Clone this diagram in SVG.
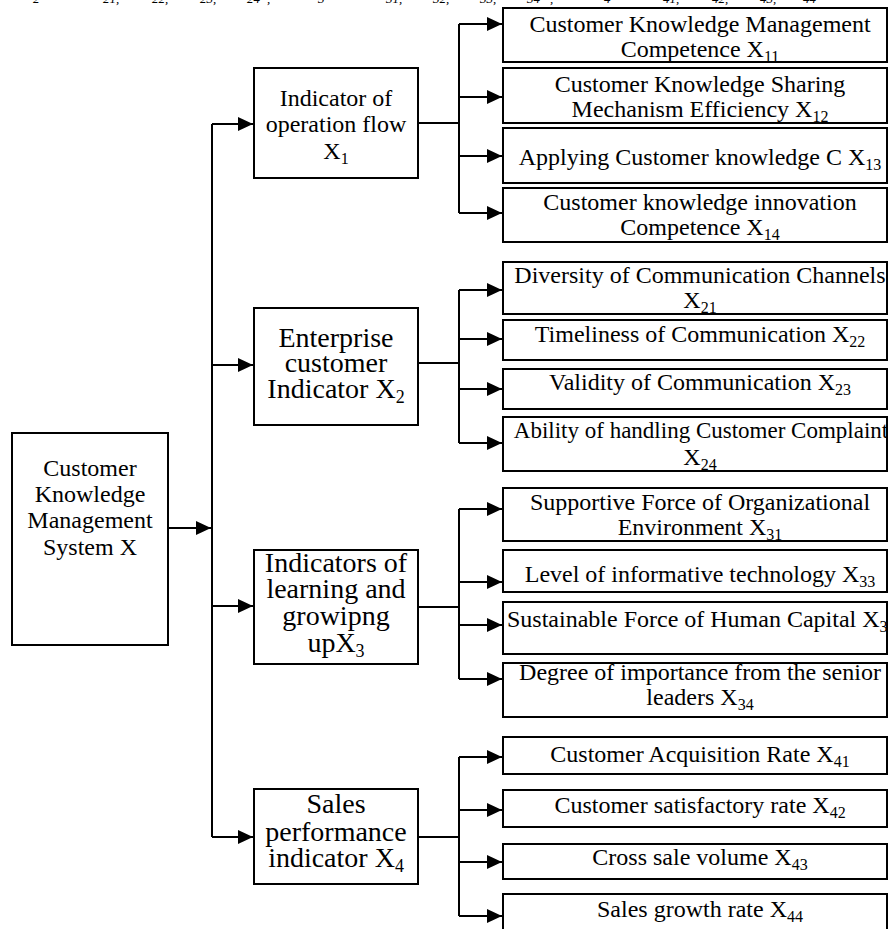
<svg xmlns="http://www.w3.org/2000/svg" width="888" height="929" viewBox="0 0 888 929">
  <style>
    .box { fill: #fff; stroke: #000; stroke-width: 2; }
    .wire { fill: none; stroke: #000; stroke-width: 2; }
    .t { font-family: "Liberation Serif", "Times New Roman", serif; font-size: 24px; fill: #000; text-anchor: middle; }
    .ts { font-family: "Liberation Serif", "Times New Roman", serif; font-size: 24px; fill: #000; text-anchor: start; }
    .tl { font-size: 28px; }
    .sub { font-size: 16px; }
    .subl { font-size: 18px; }
    .top { font-family: "Liberation Serif", "Times New Roman", serif; font-size: 13px; font-style: italic; fill: #000; }
  </style>
  <defs>
    <marker id="arrow" markerUnits="userSpaceOnUse" markerWidth="15" markerHeight="14" refX="15" refY="7" orient="auto">
      <path d="M0,0 L15,7 L0,14 z" fill="#000"/>
    </marker>
  </defs>

  <!-- subscripts of the preceding formula line, clipped at the top edge -->
  <g id="formula-tail">
    <text class="top" x="33" y="3">2</text>
    <text class="top" x="103" y="3">21,</text>
    <text class="top" x="152" y="3">22,</text>
    <text class="top" x="200" y="3">23,</text>
    <text class="top" x="247" y="3">24</text>
    <text class="top" x="267" y="3">,</text>
    <text class="top" x="318" y="3">3</text>
    <text class="top" x="386" y="3">31,</text>
    <text class="top" x="433" y="3">32,</text>
    <text class="top" x="480" y="3">33,</text>
    <text class="top" x="527" y="3">34</text>
    <text class="top" x="550" y="3">,</text>
    <text class="top" x="604" y="3">4</text>
    <text class="top" x="663" y="3">41,</text>
    <text class="top" x="712" y="3">42,</text>
    <text class="top" x="760" y="3">43,</text>
    <text class="top" x="803" y="3">44</text>
  </g>

  <!-- connectors -->
  <g id="connectors">
    <!-- root to trunk -->
    <line class="wire" x1="168" y1="528" x2="211" y2="528" marker-end="url(#arrow)"/>
    <!-- main trunk -->
    <line class="wire" x1="212" y1="124" x2="212" y2="837"/>
    <line class="wire" x1="212" y1="124" x2="253" y2="124" marker-end="url(#arrow)"/>
    <line class="wire" x1="212" y1="365" x2="253" y2="365" marker-end="url(#arrow)"/>
    <line class="wire" x1="212" y1="606" x2="253" y2="606" marker-end="url(#arrow)"/>
    <line class="wire" x1="212" y1="837" x2="253" y2="837" marker-end="url(#arrow)"/>

    <!-- group 1 -->
    <line class="wire" x1="418" y1="123" x2="459" y2="123"/>
    <line class="wire" x1="459" y1="24" x2="459" y2="213"/>
    <line class="wire" x1="459" y1="24" x2="502" y2="24" marker-end="url(#arrow)"/>
    <line class="wire" x1="459" y1="97" x2="502" y2="97" marker-end="url(#arrow)"/>
    <line class="wire" x1="459" y1="156" x2="502" y2="156" marker-end="url(#arrow)"/>
    <line class="wire" x1="459" y1="213" x2="502" y2="213" marker-end="url(#arrow)"/>

    <!-- group 2 -->
    <line class="wire" x1="418" y1="363" x2="459" y2="363"/>
    <line class="wire" x1="459" y1="290" x2="459" y2="443"/>
    <line class="wire" x1="459" y1="290" x2="502" y2="290" marker-end="url(#arrow)"/>
    <line class="wire" x1="459" y1="339" x2="502" y2="339" marker-end="url(#arrow)"/>
    <line class="wire" x1="459" y1="389" x2="502" y2="389" marker-end="url(#arrow)"/>
    <line class="wire" x1="459" y1="443" x2="502" y2="443" marker-end="url(#arrow)"/>

    <!-- group 3 -->
    <line class="wire" x1="418" y1="607" x2="459" y2="607"/>
    <line class="wire" x1="459" y1="509" x2="459" y2="679"/>
    <line class="wire" x1="459" y1="509" x2="502" y2="509" marker-end="url(#arrow)"/>
    <line class="wire" x1="459" y1="582" x2="502" y2="582" marker-end="url(#arrow)"/>
    <line class="wire" x1="459" y1="625" x2="502" y2="625" marker-end="url(#arrow)"/>
    <line class="wire" x1="459" y1="679" x2="502" y2="679" marker-end="url(#arrow)"/>

    <!-- group 4 -->
    <line class="wire" x1="418" y1="837" x2="459" y2="837"/>
    <line class="wire" x1="459" y1="757" x2="459" y2="916"/>
    <line class="wire" x1="459" y1="757" x2="502" y2="757" marker-end="url(#arrow)"/>
    <line class="wire" x1="459" y1="810" x2="502" y2="810" marker-end="url(#arrow)"/>
    <line class="wire" x1="459" y1="862" x2="502" y2="862" marker-end="url(#arrow)"/>
    <line class="wire" x1="459" y1="916" x2="502" y2="916" marker-end="url(#arrow)"/>
  </g>

  <!-- root -->
  <g id="root">
    <rect class="box" x="12" y="433" width="156" height="212"/>
    <text class="t" x="90" y="476">Customer</text>
    <text class="t" x="90" y="502">Knowledge</text>
    <text class="t" x="90" y="528">Management</text>
    <text class="t" x="90" y="555">System X</text>
  </g>

  <!-- first level -->
  <g id="x1">
    <rect class="box" x="254" y="68" width="164" height="110"/>
    <text class="t" x="336" y="106">Indicator of</text>
    <text class="t" x="336" y="132">operation flow</text>
    <text class="t" x="336" y="159">X<tspan class="sub" dy="5">1</tspan></text>
  </g>
  <g id="x2">
    <rect class="box" x="254" y="308" width="164" height="117"/>
    <text class="t tl" x="336" y="347">Enterprise</text>
    <text class="t tl" x="336" y="372">customer</text>
    <text class="t tl" x="336" y="398">Indicator X<tspan class="subl" dy="5">2</tspan></text>
  </g>
  <g id="x3">
    <rect class="box" x="254" y="550" width="164" height="114"/>
    <text class="t tl" x="336" y="572">Indicators of</text>
    <text class="t tl" x="336" y="598">learning and</text>
    <text class="t tl" x="336" y="625">growipng</text>
    <text class="t tl" x="336" y="652">upX<tspan class="subl" dy="5">3</tspan></text>
  </g>
  <g id="x4">
    <rect class="box" x="254" y="789" width="164" height="95"/>
    <text class="t tl" x="336" y="813">Sales</text>
    <text class="t tl" x="336" y="841">performance</text>
    <text class="t tl" x="336" y="867">indicator X<tspan class="subl" dy="5">4</tspan></text>
  </g>

  <!-- second level: operation flow -->
  <g id="x11">
    <rect class="box" x="503" y="8" width="384" height="54"/>
    <text class="t" x="700" y="32">Customer Knowledge Management</text>
    <text class="t" x="700" y="57">Competence X<tspan class="sub" dy="5">11</tspan></text>
  </g>
  <g id="x12">
    <rect class="box" x="503" y="68" width="384" height="55"/>
    <text class="t" x="700" y="92">Customer Knowledge Sharing</text>
    <text class="t" x="700" y="117">Mechanism Efficiency X<tspan class="sub" dy="5">12</tspan></text>
  </g>
  <g id="x13">
    <rect class="box" x="503" y="128" width="384" height="55"/>
    <text class="t" x="700" y="165">Applying Customer knowledge C X<tspan class="sub" dy="5">13</tspan></text>
  </g>
  <g id="x14">
    <rect class="box" x="503" y="188" width="384" height="54"/>
    <text class="t" x="700" y="210">Customer knowledge innovation</text>
    <text class="t" x="700" y="235">Competence X<tspan class="sub" dy="5">14</tspan></text>
  </g>

  <!-- second level: enterprise customer -->
  <g id="x21">
    <rect class="box" x="503" y="262" width="384" height="52"/>
    <text class="t" x="700" y="283">Diversity of Communication Channels</text>
    <text class="t" x="700" y="308">X<tspan class="sub" dy="5">21</tspan></text>
  </g>
  <g id="x22">
    <rect class="box" x="503" y="320" width="384" height="40"/>
    <text class="t" x="700" y="342">Timeliness of Communication X<tspan class="sub" dy="5">22</tspan></text>
  </g>
  <g id="x23">
    <rect class="box" x="503" y="369" width="384" height="40"/>
    <text class="t" x="700" y="390">Validity of Communication X<tspan class="sub" dy="5">23</tspan></text>
  </g>
  <g id="x24">
    <rect class="box" x="503" y="417" width="384" height="54"/>
    <text class="t" x="701" y="438" style="font-size:23px">Ability of handling Customer Complaint</text>
    <text class="t" x="700" y="465">X<tspan class="sub" dy="5">24</tspan></text>
  </g>

  <!-- second level: learning and growing -->
  <g id="x31">
    <rect class="box" x="503" y="488" width="384" height="53"/>
    <text class="t" x="700" y="510">Supportive Force of Organizational</text>
    <text class="t" x="700" y="535">Environment X<tspan class="sub" dy="5">31</tspan></text>
  </g>
  <g id="x33">
    <rect class="box" x="503" y="550" width="384" height="42"/>
    <text class="t" x="700" y="582">Level of informative technology X<tspan class="sub" dy="5">33</tspan></text>
  </g>
  <g id="x32">
    <rect class="box" x="503" y="602" width="384" height="52"/>
    <text class="ts" x="507" y="627">Sustainable Force of Human Capital X<tspan class="sub" dy="5">32</tspan></text>
  </g>
  <g id="x34">
    <rect class="box" x="503" y="663" width="384" height="54"/>
    <text class="t" x="700" y="680">Degree of importance from the senior</text>
    <text class="t" x="700" y="705">leaders X<tspan class="sub" dy="5">34</tspan></text>
  </g>

  <!-- second level: sales performance -->
  <g id="x41">
    <rect class="box" x="503" y="737" width="384" height="37"/>
    <text class="t" x="700" y="762">Customer Acquisition Rate X<tspan class="sub" dy="5">41</tspan></text>
  </g>
  <g id="x42">
    <rect class="box" x="503" y="790" width="384" height="37"/>
    <text class="t" x="700" y="813">Customer satisfactory rate X<tspan class="sub" dy="5">42</tspan></text>
  </g>
  <g id="x43">
    <rect class="box" x="503" y="844" width="384" height="35"/>
    <text class="t" x="700" y="865">Cross sale volume X<tspan class="sub" dy="5">43</tspan></text>
  </g>
  <g id="x44">
    <rect class="box" x="503" y="894" width="384" height="45"/>
    <text class="t" x="700" y="917">Sales growth rate X<tspan class="sub" dy="5">44</tspan></text>
  </g>
</svg>
